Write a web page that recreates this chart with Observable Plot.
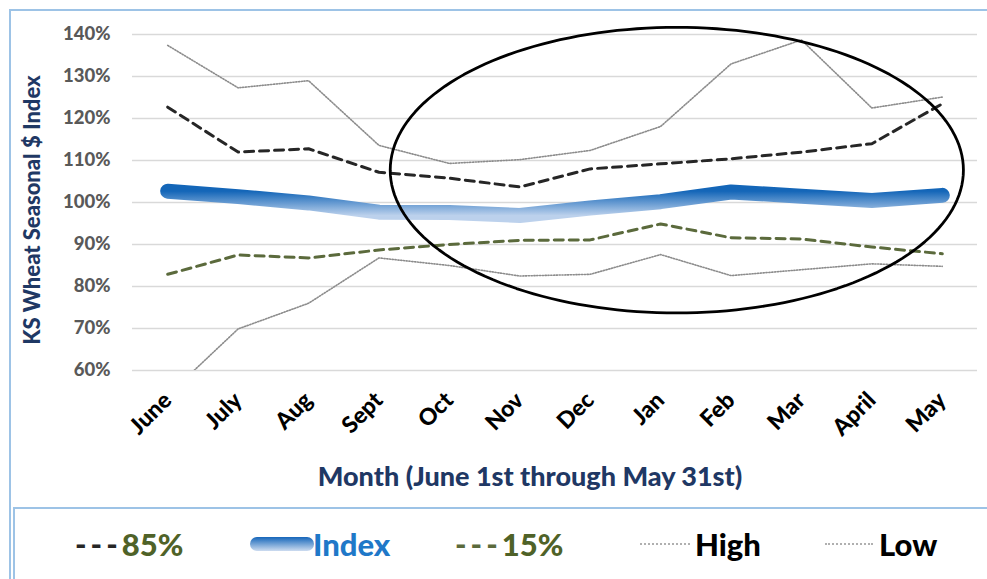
<!DOCTYPE html>
<html>
<head>
<meta charset="utf-8">
<script src="https://cdn.jsdelivr.net/npm/d3@7"></script>
<script src="https://cdn.jsdelivr.net/npm/@observablehq/plot@0.6"></script>
<style>
  html, body { margin: 0; padding: 0; background: #fff; width: 987px; height: 579px; overflow: hidden; }
  body { position: relative; font-family: Lato, "Open Sans", sans-serif; }
  #frame { position: absolute; left: 9px; top: 9px; width: 1000px; height: 700px; border-left: 2px solid #9dc3e6; border-top: 2px solid #9dc3e6; }
  #legendbox { position: absolute; left: 13px; top: 507px; width: 1000px; height: 200px; border-left: 2px solid #9dc3e6; border-top: 2px solid #9dc3e6; }
  #chart { position: absolute; left: 10px; top: 10px; }
  #ylabel { position: absolute; left: 31px; top: 210px; transform: translate(-50%, -50%) rotate(-90deg); white-space: nowrap; font-weight: 900; font-size: 22px; color: #1f3864; }
  #xlabel { position: absolute; left: 530px; top: 475px; transform: translate(-50%, -50%); white-space: nowrap; font-weight: 900; font-size: 27px; color: #1f3864; }
  .leg { position: absolute; top: 544px; transform: translateY(-50%); font-weight: 900; font-size: 31px; white-space: nowrap; line-height: 1; }
  .sw { position: absolute; }
</style>
</head>
<body>
<div id="frame"></div>
<div id="legendbox"></div>
<div id="chart"></div>
<div id="ylabel">KS Wheat Seasonal $ Index</div>
<div id="xlabel">Month (June 1st through May 31st)</div>

<div class="leg" style="left:75px"><span style="color:#262626;letter-spacing:4px">---</span><span style="color:#4f6228">85%</span></div>
<div class="sw" style="left:250px;top:537px;width:64px;height:14px;border-radius:7px;background:linear-gradient(to bottom,#1666ba,#cddcf0);"></div>
<div class="leg" style="left:313px;color:#1f78c8">Index</div>
<div class="leg" style="left:455px"><span style="color:#5b6a3c;letter-spacing:4px">---</span><span style="color:#4f6228">15%</span></div>
<div class="sw" style="left:640px;top:543px;width:50px;height:0;border-top:2px dotted #b0b0b0;"></div>
<div class="leg" style="left:695px;color:#000">High</div>
<div class="sw" style="left:825px;top:543px;width:48px;height:0;border-top:2px dotted #b0b0b0;"></div>
<div class="leg" style="left:879px;color:#000">Low</div>

<script>
// ---- Data ----
const months = ["June","July","Aug","Sept","Oct","Nov","Dec","Jan","Feb","Mar","April","May"];
const high   = [137.4,127.3,129.0,113.6,109.3,110.2,112.4,118.1,133.0,138.7,122.5,125.1];
const p85    = [122.7,112.0,112.8,107.2,105.8,103.7,108.0,109.2,110.4,112.0,114.0,123.5];
const index  = [102.7,101.4,99.9,97.7,97.6,96.9,98.7,100.2,102.5,101.5,100.5,101.7];
const p15    = [82.9,87.5,86.8,88.7,90.0,91.0,91.1,94.9,91.6,91.3,89.4,87.8];
const low    = [54.1,69.9,76.0,86.8,85.0,82.5,82.9,87.6,82.6,84.0,85.4,84.8];
const yTicks = [60,70,80,90,100,110,120,130,140];

// Annotation ellipse (centre and radii in data units: month index, percent)
const ellipseCenter = {x: 7.23, y: 107.7};
const ellipseRadius = {x: 4.07, y: 34.0};

const rows = arr => arr.map((v, i) => ({i, v}));
const ellipsePts = d3.range(0, 360, 2).map(a => {
  const t = a * Math.PI / 180;
  return {x: ellipseCenter.x + ellipseRadius.x * Math.cos(t), y: ellipseCenter.y + ellipseRadius.y * Math.sin(t)};
});

const plot = Plot.plot({
  width: 975,
  height: 490,
  marginLeft: 122,
  marginRight: 8,
  marginTop: 24,
  marginBottom: 130,
  style: {fontFamily: "Lato, 'Open Sans', sans-serif", background: "transparent", overflow: "visible"},
  x: {domain: [-0.5, 11.5], label: null},
  y: {domain: [60, 140], label: null},
  marks: [
    Plot.gridY(yTicks, {stroke: "#d9d9d9", strokeOpacity: 1, strokeWidth: 1.5}),
    Plot.axisY(yTicks, {tickFormat: d => d + "%", tickSize: 0, tickPadding: 22, fontSize: 18.5, fontWeight: 900, color: "#595959", label: null}),
    Plot.axisX(d3.range(12), {tickFormat: i => months[i], tickRotate: -45, tickSize: 0, tickPadding: 26, fontSize: 23, fontWeight: 900, color: "#000", label: null}),
    Plot.line(rows(high), {x: "i", y: "v", stroke: "#8c8c8c", strokeWidth: 1.6, strokeDasharray: "1.2,1.6", clip: true}),
    Plot.line(rows(low),  {x: "i", y: "v", stroke: "#8c8c8c", strokeWidth: 1.6, strokeDasharray: "1.2,1.6", clip: true}),
    Plot.line(rows(p85),  {x: "i", y: "v", stroke: "#262626", strokeWidth: 3, strokeDasharray: "9,6", clip: true}),
    Plot.line(rows(p15),  {x: "i", y: "v", stroke: "#5b6a3c", strokeWidth: 3, strokeDasharray: "9,6", clip: true}),
    Plot.line(rows(index), {x: "i", y: "v", stroke: "url(#idxGrad)", strokeWidth: 15, strokeLinecap: "round", strokeLinejoin: "round"}),
    Plot.line(ellipsePts, {x: "x", y: "y", stroke: "#000", strokeWidth: 2.8, curve: "linear-closed"})
  ]
});

const svg = d3.select(plot);
const defs = svg.insert("defs", ":first-child");
const g = defs.append("linearGradient").attr("id", "idxGrad")
  .attr("x1", 0).attr("y1", 0).attr("x2", 0).attr("y2", 1);
g.append("stop").attr("offset", "0%").attr("stop-color", "#1466b8");
g.append("stop").attr("offset", "100%").attr("stop-color", "#bcd1ec");

document.getElementById("chart").appendChild(plot);
</script>
</body>
</html>
